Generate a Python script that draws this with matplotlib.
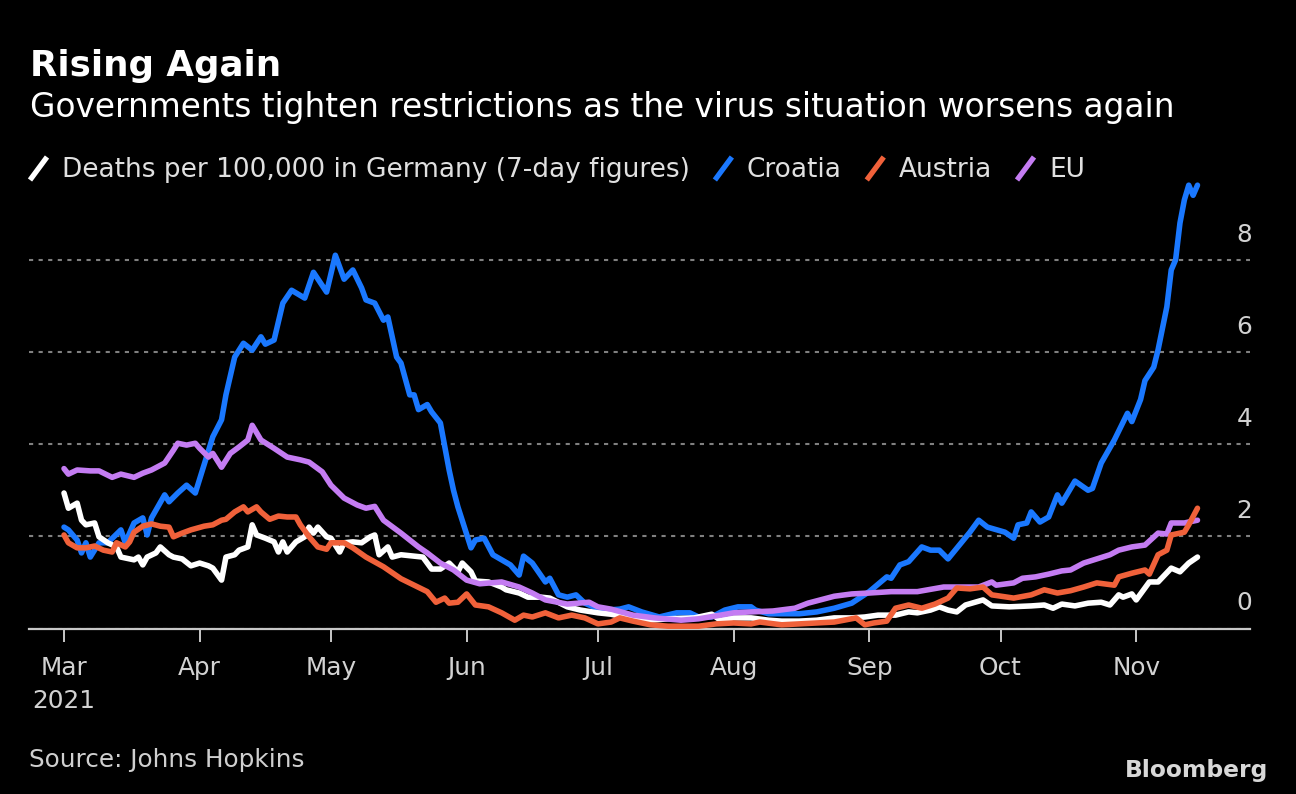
import matplotlib
matplotlib.use("Agg")
import matplotlib.pyplot as plt
from matplotlib.lines import Line2D
import pandas as pd

START = pd.Timestamp("2021-03-01")

# days since 2021-03-01, values = deaths per 100,000 (7-day)
germany_days = [0, 1, 3, 4, 5, 7, 8, 10, 12, 13, 16, 17, 18, 19, 21, 22, 24, 25, 27, 29,
                31, 33, 34, 36, 37, 39, 40, 42, 43, 44, 46, 48, 49, 50, 51, 53, 55, 56, 57, 58,
                60, 61, 63, 64, 66, 68, 70, 71, 72, 74, 75, 77, 80, 82, 84, 86, 88, 90, 91, 93,
                94, 97, 100, 101, 104, 106, 109, 111, 115, 118, 122, 125, 129, 134, 138, 144, 148, 150, 153, 157,
                161, 164, 168, 172, 176, 180, 183, 186, 190, 193, 195, 198, 200, 202, 204, 206, 210, 212, 216, 221,
                224, 226, 228, 231, 234, 237, 239, 241, 242, 244, 245, 248, 250, 253, 255, 257, 259]
germany_vals = [2.94, 2.61, 2.72, 2.35, 2.25, 2.29, 1.99, 1.86, 1.77, 1.55, 1.49, 1.55, 1.38, 1.55, 1.64, 1.77, 1.60, 1.55, 1.51, 1.36,
                1.42, 1.36, 1.31, 1.05, 1.55, 1.60, 1.70, 1.77, 2.25, 2.03, 1.96, 1.88, 1.66, 1.88, 1.66, 1.88, 1.99, 2.20, 2.07, 2.20,
                1.99, 1.96, 1.66, 1.86, 1.88, 1.86, 1.99, 2.03, 1.60, 1.77, 1.55, 1.60, 1.57, 1.55, 1.29, 1.29, 1.42, 1.23, 1.42, 1.23,
                1.03, 1.01, 0.90, 0.84, 0.77, 0.68, 0.68, 0.66, 0.47, 0.40, 0.34, 0.31, 0.23, 0.18, 0.21, 0.23, 0.31, 0.18, 0.23, 0.23,
                0.18, 0.16, 0.16, 0.18, 0.23, 0.23, 0.25, 0.29, 0.29, 0.36, 0.34, 0.40, 0.47, 0.40, 0.36, 0.51, 0.62, 0.49, 0.47, 0.49,
                0.51, 0.44, 0.53, 0.49, 0.55, 0.57, 0.51, 0.73, 0.68, 0.75, 0.62, 1.01, 1.01, 1.31, 1.23, 1.42, 1.55]

croatia_days = [0, 1, 3, 4, 5, 6, 8, 10, 13, 14, 16, 18, 19, 20, 23, 24, 26, 28, 30, 32,
                34, 36, 37, 39, 41, 43, 45, 46, 48, 50, 52, 55, 57, 60, 62, 64, 66, 68, 69, 71,
                73, 74, 76, 77, 79, 80, 81, 83, 84, 86, 87, 88, 89, 90, 93, 94, 96, 98, 100, 102,
                104, 105, 107, 110, 111, 113, 115, 117, 119, 121, 124, 127, 129, 132, 136, 140, 143, 145, 148, 151,
                154, 157, 158, 161, 164, 168, 172, 176, 180, 184, 188, 189, 191, 193, 196, 198, 200, 202, 205, 207,
                209, 211, 215, 217, 218, 220, 221, 223, 225, 227, 228, 231, 234, 235, 237, 240, 243, 244, 246, 247,
                249, 250, 252, 253, 254, 255, 256, 257, 258, 259]
croatia_vals = [2.20, 2.14, 1.92, 1.64, 1.86, 1.55, 1.86, 1.86, 2.14, 1.86, 2.29, 2.40, 2.03, 2.40, 2.90, 2.75, 2.94, 3.11, 2.94, 3.55,
                4.16, 4.53, 5.07, 5.89, 6.19, 6.04, 6.33, 6.17, 6.26, 7.06, 7.34, 7.17, 7.73, 7.30, 8.10, 7.58, 7.78, 7.39, 7.13, 7.06,
                6.69, 6.76, 5.89, 5.76, 5.07, 5.07, 4.75, 4.86, 4.70, 4.46, 3.95, 3.44, 3.00, 2.64, 1.75, 1.92, 1.96, 1.60, 1.49, 1.38,
                1.16, 1.57, 1.42, 1.01, 1.09, 0.73, 0.68, 0.73, 0.55, 0.47, 0.40, 0.42, 0.47, 0.36, 0.25, 0.34, 0.34, 0.25, 0.25, 0.40,
                0.47, 0.47, 0.40, 0.32, 0.32, 0.32, 0.36, 0.44, 0.55, 0.80, 1.12, 1.09, 1.38, 1.45, 1.77, 1.70, 1.70, 1.51, 1.86, 2.09,
                2.35, 2.20, 2.09, 1.96, 2.25, 2.29, 2.53, 2.31, 2.42, 2.90, 2.72, 3.20, 3.00, 3.04, 3.59, 4.09, 4.67, 4.49, 4.97, 5.38,
                5.67, 6.05, 6.98, 7.78, 8.00, 8.80, 9.30, 9.62, 9.40, 9.62]

austria_days = [0, 1, 3, 5, 7, 9, 11, 12, 14, 15, 16, 18, 20, 22, 24, 25, 27, 29, 32, 34,
                36, 37, 39, 41, 42, 44, 45, 47, 49, 51, 53, 54, 56, 58, 60, 61, 64, 66, 69, 73,
                77, 80, 83, 85, 87, 88, 90, 92, 94, 97, 100, 103, 105, 107, 110, 113, 116, 119, 122, 125,
                127, 130, 134, 138, 145, 149, 153, 157, 159, 164, 168, 172, 176, 181, 183, 185, 188, 190, 193, 196,
                199, 202, 204, 207, 210, 212, 217, 221, 224, 227, 230, 233, 236, 240, 241, 244, 247, 248, 250, 252,
                253, 256, 257, 259]
austria_vals = [2.03, 1.86, 1.75, 1.75, 1.79, 1.70, 1.66, 1.86, 1.77, 1.88, 2.09, 2.22, 2.27, 2.22, 2.20, 1.99, 2.07, 2.14, 2.22, 2.25,
                2.35, 2.37, 2.53, 2.64, 2.53, 2.64, 2.53, 2.37, 2.44, 2.42, 2.42, 2.25, 1.99, 1.77, 1.72, 1.86, 1.86, 1.75, 1.55, 1.34,
                1.08, 0.94, 0.80, 0.57, 0.66, 0.55, 0.57, 0.75, 0.51, 0.47, 0.34, 0.18, 0.29, 0.25, 0.34, 0.23, 0.29, 0.23, 0.10, 0.14,
                0.23, 0.16, 0.08, 0.05, 0.05, 0.10, 0.12, 0.10, 0.14, 0.08, 0.10, 0.12, 0.14, 0.23, 0.08, 0.12, 0.16, 0.44, 0.51, 0.44,
                0.53, 0.66, 0.88, 0.86, 0.90, 0.73, 0.66, 0.73, 0.84, 0.77, 0.82, 0.90, 0.99, 0.94, 1.12, 1.20, 1.27, 1.18, 1.60, 1.70,
                2.03, 2.09, 2.25, 2.61]

eu_days = [0, 1, 3, 6, 8, 11, 13, 16, 18, 20, 23, 25, 26, 28, 30, 31, 33, 34, 36, 38,
           40, 42, 43, 45, 48, 51, 54, 56, 59, 61, 64, 67, 69, 71, 73, 77, 81, 83, 86, 89,
           92, 95, 100, 104, 107, 110, 115, 120, 122, 125, 130, 135, 141, 145, 150, 153, 157, 162, 167, 170,
           176, 180, 184, 189, 195, 201, 205, 209, 212, 213, 217, 219, 222, 225, 228, 230, 233, 236, 239, 241,
           244, 247, 250, 252, 253, 256, 259]
eu_vals = [3.47, 3.35, 3.44, 3.42, 3.42, 3.28, 3.35, 3.28, 3.37, 3.44, 3.59, 3.87, 4.02, 3.98, 4.02, 3.91, 3.72, 3.80, 3.50, 3.80,
           3.94, 4.09, 4.41, 4.09, 3.91, 3.72, 3.66, 3.61, 3.40, 3.11, 2.83, 2.68, 2.61, 2.65, 2.35, 2.07, 1.77, 1.64, 1.42, 1.27,
           1.05, 0.97, 1.01, 0.90, 0.77, 0.62, 0.53, 0.57, 0.47, 0.42, 0.29, 0.23, 0.18, 0.21, 0.29, 0.34, 0.36, 0.38, 0.44, 0.55,
           0.70, 0.75, 0.77, 0.80, 0.80, 0.90, 0.90, 0.90, 1.01, 0.94, 0.99, 1.09, 1.12, 1.18, 1.25, 1.27, 1.42, 1.51, 1.60, 1.70,
           1.77, 1.81, 2.07, 2.05, 2.29, 2.29, 2.35]

# legend order, plus the stacking order seen in the chart (higher = on top)
series = [
    ("Deaths per 100,000 in Germany (7-day figures)", germany_days, germany_vals, "#ffffff", 4),
    ("Croatia", croatia_days, croatia_vals, "#1a78ff", 3),
    ("Austria", austria_days, austria_vals, "#f0613a", 6),
    ("EU", eu_days, eu_vals, "#c47cf2", 5),
]

month_ticks = pd.date_range("2021-03-01", "2021-11-01", freq="MS")
month_labels = ["Mar\n2021", "Apr", "May", "Jun", "Jul", "Aug", "Sep", "Oct", "Nov"]
y_ticks = [0, 2, 4, 6, 8]

W, H = 1296, 794
BG = "black"
FONT = "DejaVu Sans"

fig = plt.figure(figsize=(W / 100, H / 100), dpi=100, facecolor=BG)
ax = fig.add_axes([29 / W, 1 - 628.5 / H, 1221 / W, 447 / H], facecolor=BG)

for label, days, vals, color, z in series:
    dates = START + pd.to_timedelta(days, unit="D")
    ax.plot(dates, vals, color=color, lw=4.0, solid_joinstyle="round",
            solid_capstyle="round", clip_on=False, zorder=z)

ax.set_xlim(START - pd.Timedelta(days=8), START + pd.Timedelta(days=271))
ax.set_ylim(0, 9.7)

for side in ["top", "left", "right"]:
    ax.spines[side].set_visible(False)
ax.spines["bottom"].set_color("#c8c8c8")
ax.spines["bottom"].set_linewidth(1.6)

ax.set_xticks(month_ticks)
ax.set_xticklabels(month_labels, family=FONT, fontsize=17.8, color="#d2d2d2",
                   linespacing=1.45)
ax.tick_params(axis="x", length=9, width=1.4, color="#c8c8c8", pad=11)

ax.set_yticks(y_ticks)
ax.tick_params(axis="y", length=0, labelleft=False, labelright=False)
ax.grid(axis="y", color="#808080", linestyle=(0, (2, 2.6)), linewidth=1.5)
ax.set_axisbelow(True)
for v in y_ticks:
    ax.annotate(str(v), xy=(1, v), xycoords=ax.get_yaxis_transform(),
                xytext=(1.5, 13), textcoords="offset points", ha="right",
                va="baseline", family=FONT, fontsize=17.8, color="#d2d2d2")

# titles
fig.text(30 / W, 1 - 76 / H, "Rising Again", family=FONT, fontsize=25.7,
         fontweight="bold", color="white", va="baseline")
fig.text(30 / W, 1 - 117 / H,
         "Governments tighten restrictions as the virus situation worsens again",
         family=FONT, fontsize=23.6, color="white", va="baseline")

# legend with slash markers
renderer = fig.canvas.get_renderer()
x = 30
for i, (label, days, vals, color, z) in enumerate(series):
    if i:
        x += 25
    fig.add_artist(Line2D([x / W, (x + 17) / W], [1 - 180 / H, 1 - 157 / H],
                          color=color, lw=3.8, solid_capstyle="butt"))
    x += 17 + 15
    t = fig.text(x / W, 1 - 177 / H, label, family=FONT, fontsize=19,
                 color="#e0e0e0", va="baseline")
    x = t.get_window_extent(renderer).x1

fig.text(29 / W, 1 - 767 / H, "Source: Johns Hopkins", family=FONT,
         fontsize=17.8, color="#cfcfcf", va="baseline")
fig.text(1268 / W, 1 - 777 / H, "Bloomberg", family=FONT, fontsize=16.8,
         fontweight="bold", color="#d8d8d8", va="baseline", ha="right")

fig.savefig("out.png", dpi=100, facecolor=BG)
